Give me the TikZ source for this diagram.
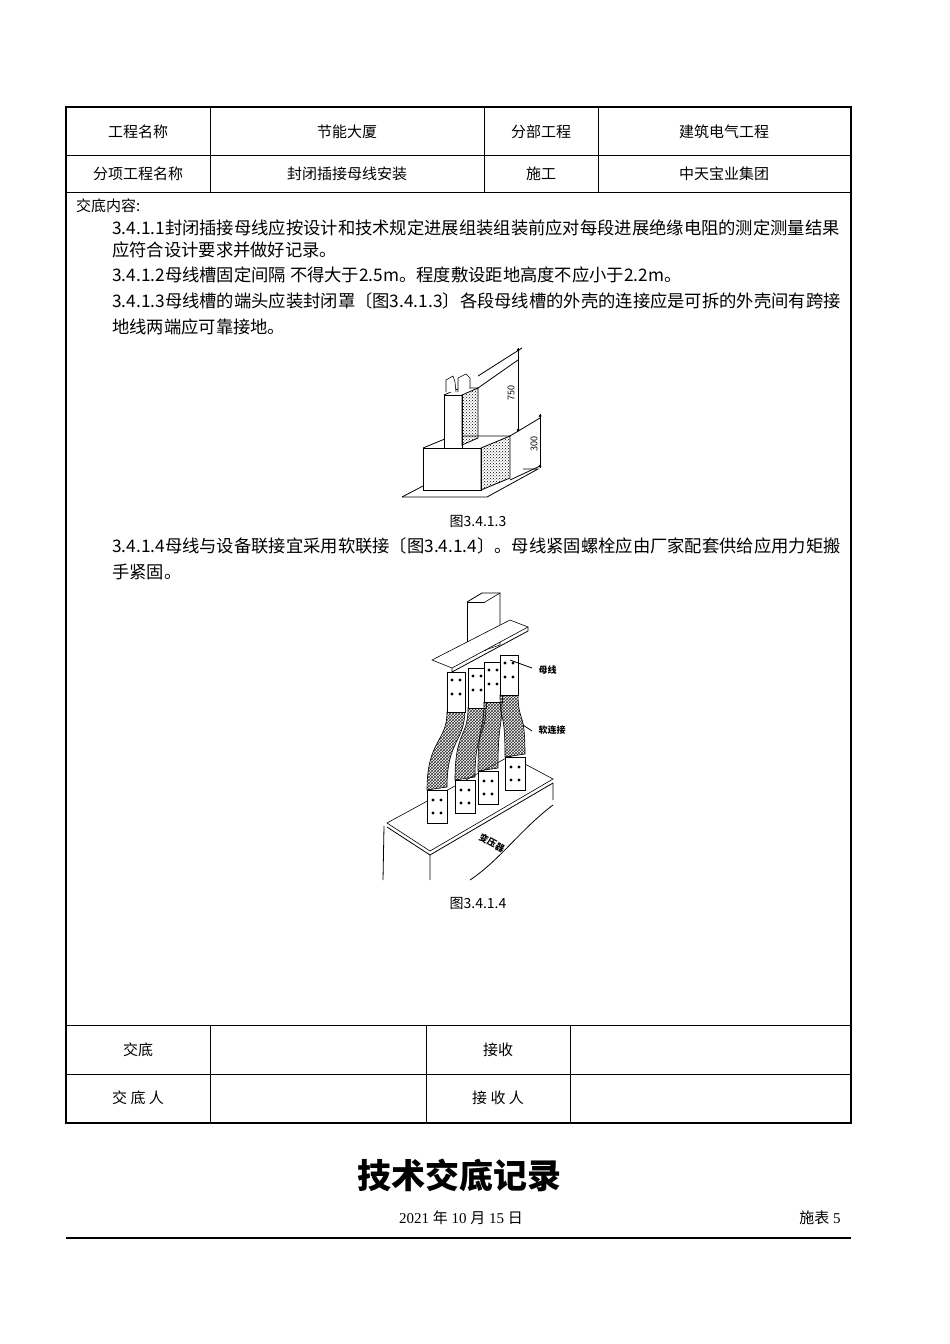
\documentclass[tikz,border=0pt]{standalone}
\usepackage{fontspec}
\setmainfont{Liberation Serif}
\newfontfamily\cjk{Noto Sans CJK SC}
\usetikzlibrary{patterns}
\tikzset{
 cell/.style={font=\cjk\fontsize{15}{18}\selectfont,anchor=center,inner sep=0},
 para/.style={font=\cjk\fontsize{17.3}{19}\selectfont,anchor=west,inner sep=0},
 thin/.style={line width=0.8pt},
 dark/.style={pattern=crosshatch dots, pattern color=black},
 braid/.style={pattern=crosshatch, pattern color=black!80, draw, line width=0.6pt},
 plate/.style={draw, fill=white, line width=0.6pt}
}
\begin{document}
\begin{tikzpicture}[x=1pt,y=-1pt]
\useasboundingbox (0,0) rectangle (950,1344);
\fill[white] (0,0) rectangle (950,1344);
% table
\draw[line width=1.6pt] (66,107) rectangle (851,1123);
\draw[thin] (66,155) -- (851,155) (66,192) -- (851,192) (66,1025) -- (851,1025) (66,1074) -- (851,1074);
\draw[thin] (210,107) -- (210,192) (484,107) -- (484,192) (598,107) -- (598,192);
\draw[thin] (210,1025) -- (210,1123) (426,1025) -- (426,1123) (570,1025) -- (570,1123);
\node[cell] (a1) at (138,132) {工程名称};
\node[cell] (a2) at (347,132) {节能大厦};
\node[cell] (a3) at (541,132) {分部工程};
\node[cell] (a4) at (724,132) {建筑电气工程};
\node[cell] (b1) at (138,174) {分项工程名称};
\node[cell] (b2) at (347,174) {封闭插接母线安装};
\node[cell] (b3) at (541,174) {施工};
\node[cell] (b4) at (724,174) {中天宝业集团};
\node[cell] (c1) at (138,1050) {交底};
\node[cell] (c3) at (498,1050) {接收};
\node[cell] (d1) at (138,1098) {交 底 人};
\node[cell] (d3) at (498,1098) {接 收 人};
% content
\node[para,font=\cjk\fontsize{15}{18}\selectfont] (t0) at (76,206) {交底内容:};
\node[para] (t1) at (112,228) {3.4.1.1封闭插接母线应按设计和技术规定进展组装组装前应对每段进展绝缘电阻的测定测量结果};
\node[para] (t2) at (112,250) {应符合设计要求并做好记录。};
\node[para] (t3) at (112,275) {3.4.1.2母线槽固定间隔 不得大于2.5m。程度敷设距地高度不应小于2.2m。};
\node[para] (t4) at (112,301) {3.4.1.3母线槽的端头应装封闭罩〔图3.4.1.3〕各段母线槽的外壳的连接应是可拆的外壳间有跨接};
\node[para] (t5) at (112,327) {地线两端应可靠接地。};
\node[para] (t6) at (112,546) {3.4.1.4母线与设备联接宜采用软联接〔图3.4.1.4〕。母线紧固螺栓应由厂家配套供给应用力矩搬};
\node[para] (t7) at (112,572) {手紧固。};
\node[cell,font=\cjk\fontsize{14}{16}\selectfont] (f1) at (478,521) {图3.4.1.3};
\node[cell,font=\cjk\fontsize{14}{16}\selectfont] (f2) at (478,903) {图3.4.1.4};
% figure 1
\draw[thin] (402,497) -- (487,497) -- (538,469) -- (523,469);
\draw[thin] (402,497) -- (423,486);
\draw[plate] (423,448) rectangle (481,490);
\draw[thin,dark] (481,448) -- (510,436) -- (510,478) -- (481,490) -- cycle;
\draw[thin] (423,448) -- (452,436) -- (510,436);
\draw[plate] (444,395) rectangle (462,448);
\draw[thin,dark] (462,395) -- (478,388) -- (478,438) -- (462,445) -- cycle;
\draw[thin] (444,395) -- (460,388) -- (478,388);
\draw[plate] (446,392) -- (446,380) -- (453,376) -- (455,382) -- (456,392);
\draw[plate] (458,392) -- (458,378) -- (466,374) -- (470,378) -- (470,388);
% dimensions
\draw[thin] (478,376) -- (522,348) (478,388) -- (518,360);
\draw[thin] (510,436) -- (540,418);
\draw[thin] (510,480) -- (540,466);
\draw[thin] (518,348) -- (518,430) (540,414) -- (540,468);
\foreach \p in {(518,350),(518,430),(540,416),(540,466)} \fill \p circle (1.5);
\node[font=\sffamily\fontsize{10}{12}\selectfont,rotate=90] (d750) at (511,393) {750};
\node[font=\sffamily\fontsize{10}{12}\selectfont,rotate=90] (d300) at (534,444) {300};
% figure 2: transformer
\draw[plate] (387,823) -- (430,851) -- (553,779) -- (510,756) -- cycle;
\draw[thin] (387,827) -- (430,855) -- (553,783);
\draw[thin] (384,826) -- (383,880) (430,855) -- (430,880) (553,783) -- (553,800);
\draw[thin] (470,880) .. controls (500,860) and (520,830) .. (553,805);
\node[font=\cjk\bfseries\fontsize{9}{11}\selectfont,rotate=-28,inner sep=0] (tr) at (492,843) {变压器};
% busbar column
\draw[plate] (467,602) rectangle (485,650);
\draw[plate] (485,602) -- (500,593) -- (500,645) -- (485,650);
\draw[thin] (467,602) -- (482,593) -- (500,593);
\draw[plate] (432,660) -- (452,668) -- (528,627) -- (510,620) -- cycle;
\draw[thin] (452,668) -- (452,672) -- (528,631) -- (528,627);
% straps
\foreach \xt/\yt/\xb/\yb in {447/672/427/790, 468/668/455/780, 484/662/478/771, 500/655/505/757}{
  \draw[braid] (\xt,\yt+40) .. controls (\xt,\yt+70) and (\xb,\yb-50) .. (\xb,\yb)
     -- (\xb+20,\yb-3) .. controls (\xb+20,\yb-50) and (\xt+18,\yt+70) .. (\xt+18,\yt+37) -- cycle;
  \draw[plate] (\xt,\yt) rectangle (\xt+18,\yt+40);
  \draw[plate] (\xb,\yb) rectangle (\xb+20,\yb+33);
  \foreach \dx/\dy in {5/8,13/8,5/22,13/22} \fill (\xt+\dx,\yt+\dy) circle (1.6);
  \foreach \dx/\dy in {6/10,14/10,6/23,14/23} \fill (\xb+\dx,\yb+\dy) circle (1.6);
}
\coordinate (m1) at (510,660);
\coordinate (m2) at (523,725);
\draw[thin] (m1) -- (532,668);
\draw[thin] (m2) -- (532,731);
\node[font=\cjk\bfseries\fontsize{9}{11}\selectfont,anchor=west] (lb1) at (535,670) {母线};
\node[font=\cjk\bfseries\fontsize{9}{11}\selectfont,anchor=west] (lb2) at (535,730) {软连接};
% footer
\node[font=\cjk\bfseries\fontsize{34}{40}\selectfont] (title) at (459,1175) {技术交底记录};
\node[font=\fontsize{15}{18}\selectfont] (date) at (461,1218) {2021 {\cjk 年} 10 {\cjk 月} 15 {\cjk 日}};
\node[font=\fontsize{15}{18}\selectfont] (no) at (820,1218) {{\cjk 施表} 5};
\draw[line width=1.6pt] (66,1238) -- (851,1238);
\end{tikzpicture}
\end{document}
